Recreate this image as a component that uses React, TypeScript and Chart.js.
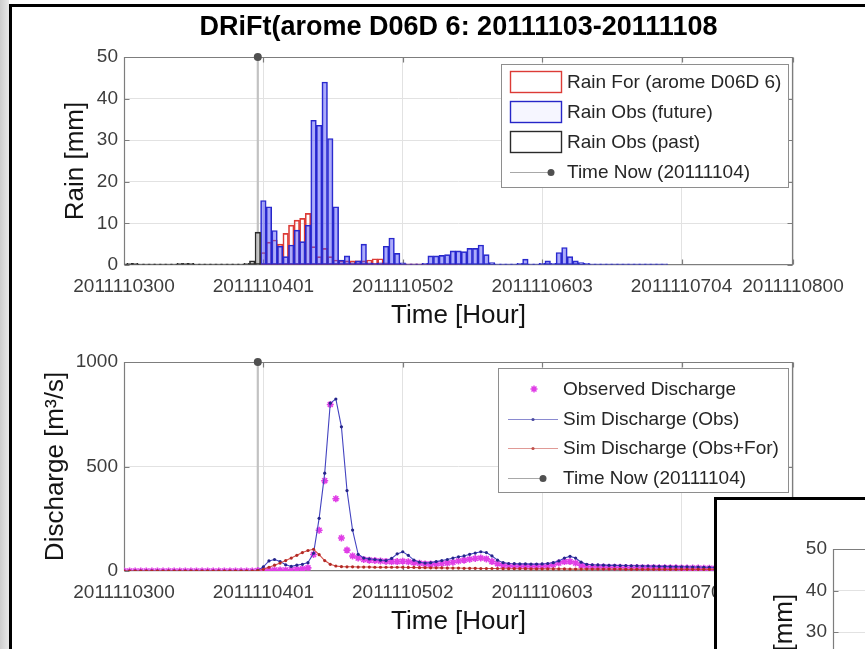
import React, { useEffect, useRef } from 'react';
import { Chart, registerables } from 'chart.js';

Chart.register(...registerables);

const FONT = '"Liberation Sans", Arial, Helvetica, sans-serif';
Chart.defaults.font.family = FONT;

const W = 865;
const H = 649;

// ---- text ----
const FIGURE_TITLE = 'DRiFt(arome D06D 6: 20111103-20111108';
const X_TITLE = 'Time [Hour]';
const RAIN_Y_TITLE = 'Rain [mm]';
const FLOW_Y_TITLE = 'Discharge [m³/s]';
const NOW_LABEL = 'Time Now (20111104)';

// ---- time axis: hours counted from 2011-11-03 00h ----
const TICK_HOURS = [0, 25, 50, 75, 100, 120];
const TICK_LABELS = ['2011110300', '2011110401', '2011110502', '2011110603', '2011110704', '2011110800'];
const NOW_HOUR = 24;

// ---- hourly rain (mm) ----
const RAIN_PAST_START = 0;
const RAIN_PAST = [
  0.3, 0.4, 0.4, 0.3, 0.3, 0.3, 0.3, 0.3, 0.3, 0.3,
  0.4, 0.4, 0.4, 0.3, 0.3, 0.3, 0.3, 0.3, 0.3, 0.3,
  0.3, 0.3, 0.4, 1.0, 7.9,
];
const RAIN_FUTURE_START = 25;
const RAIN_FUTURE = [
  15.5, 14.0, 8.3, 4.5, 2.0, 4.8, 8.4, 5.6, 9.6, 34.8,
  33.6, 44.0, 30.4, 14.0, 1.2, 2.2, 0.5, 1.0, 5.0, 0.5,
  0.4, 0.5, 4.5, 6.5, 2.8, 0.5, 0.3, 0.3, 0.3, 0.4,
  2.2, 2.2, 2.3, 2.5, 3.4, 3.4, 3.2, 4.0, 4.0, 4.8,
  2.5, 0.6, 0.3, 0.3, 0.3, 0.3, 0.4, 1.4, 0.3, 0.3,
  0.4, 1.0, 0.4, 3.0, 4.2, 2.0, 1.0, 0.6, 0.4, 0.3,
  0.3, 0.3, 0.3, 0.3, 0.3, 0.3, 0.3, 0.3, 0.3, 0.3,
  0.3, 0.3, 0.3,
];
const RAIN_FORECAST_START = 25;
const RAIN_FORECAST = [
  3.0, 5.5, 6.0, 5.0, 7.6, 9.6, 10.8, 11.2, 12.4, 4.4,
  2.0, 4.0, 2.0, 1.2, 1.0, 1.0, 1.0, 1.0, 1.0, 1.2,
  1.5, 1.5, 0.5, 0.4, 0.3, 0.3, 0.3, 0.3, 0.3, 0.3,
  0.3, 0.3, 0.3, 0.3, 0.3, 0.3,
];

// ---- hourly discharge (m3/s), hour 0 .. 120 ----
const Q_OBSERVED = [
  0, 0, 0, 0, 0, 0, 0, 0, 0, 0,
  0, 0, 0, 0, 0, 0, 0, 0, 0, 0,
  0, 0, 0, 0, 2, 3, 4, 5, 5, 5,
  6, 8, 10, 15, 79, 195, 432, 797, 346, 158,
  100, 72, 62, 55, 52, 50, 48, 46, 45, 45,
  47, 44, 40, 37, 34, 33, 34, 36, 38, 42,
  48, 52, 56, 60, 62, 58, 45, 35, 28, 25,
  23, 22, 22, 22, 22, 23, 25, 30, 38, 45,
  45, 38, 28, 22, 20, 19, 19, 18, 18, 18,
  17, 17, 17, 16, 16, 16, 15, 15, 15, 15,
  14, 14, 14, 14, 13, 13, 13, 13, 13, 12,
  12, 12, 12, 12, 12, 11, 11, 11, 11, 11,
  11,
];
const Q_SIM_OBS = [
  0, 0, 0, 0, 0, 0, 0, 0, 0, 0,
  0, 0, 0, 0, 0, 0, 0, 0, 0, 0,
  0, 0, 0, 0, 3, 20, 48, 55, 45, 30,
  22, 28, 32, 40, 85, 252, 468, 803, 823, 690,
  385, 196, 80, 62, 58, 55, 52, 50, 60, 82,
  92, 75, 52, 42, 38, 40, 45, 50, 55, 62,
  68, 72, 80, 86, 92, 88, 72, 52, 40, 36,
  35, 34, 34, 33, 33, 34, 36, 40, 48, 62,
  70, 62, 42, 32, 30, 29, 28, 27, 27, 26,
  26, 25, 25, 24, 24, 23, 22, 22, 21, 21,
  20, 20, 19, 19, 18, 18, 17, 17, 17, 16,
  16, 16, 15, 15, 15, 14, 14, 14, 14, 13,
  13,
];
const Q_SIM_OBS_FOR = [
  0, 0, 0, 0, 0, 0, 0, 0, 0, 0,
  0, 0, 0, 0, 0, 0, 0, 0, 0, 0,
  0, 0, 0, 0, 2, 8, 18, 28, 38, 50,
  62, 75, 88, 98, 104, 78, 50, 32, 24, 21,
  20, 20, 19, 19, 19, 18, 18, 18, 18, 18,
  18, 17, 17, 16, 16, 15, 15, 15, 14, 14,
  14, 13, 13, 13, 12, 12, 12, 12, 11, 11,
  11, 11, 11, 10, 10, 10, 10, 10, 10, 10,
  9, 9, 9, 9, 9, 9, 9, 9, 9, 9,
  8, 8, 8, 8, 8, 8, 8, 8, 8, 8,
  8, 8, 8, 8, 8, 8, 8, 8, 8, 8,
  8, 8, 8, 8, 8, 8, 8, 8, 8, 8,
  8,
];

// ---- styling ----
const GRID_COLOR = '#e2e2e2';
const AXIS_COLOR = '#7d7d7d';
const TICK_COLOR = '#3d3d3d';
const LABEL_COLOR = '#141414';
const TEXT_COLOR = '#262626';
const RED = '#dc3b36';
const BLUE = '#2626c8';
const PAST = '#2a2a2a';
const NOW_LINE = '#c2c2c2';
const NOW_DOT = '#505050';
const MAGENTA = '#e03ee6';
const SIM_BLUE = '#4343c0';
const SIM_RED = '#d4504a';

const series = (start: number, values: number[]) => values.map((y, i) => ({ x: start + i, y }));

// Title centred over the plot area
const axesTitle = {
  id: 'axesTitle',
  afterDraw(chart: any, _a: any, opts: any) {
    if (!opts || !opts.text) return;
    const { ctx, chartArea } = chart;
    ctx.save();
    ctx.font = `bold ${opts.size}px ${FONT}`;
    ctx.fillStyle = opts.color;
    ctx.textAlign = 'center';
    ctx.textBaseline = 'middle';
    ctx.fillText(opts.text, (chartArea.left + chartArea.right) / 2, chartArea.top - opts.gap);
    ctx.restore();
  },
};

// Box around the plot area with inward tick marks
const axesBox = {
  id: 'axesBox',
  beforeDatasetsDraw(chart: any, _a: any, opts: any) {
    const { ctx, chartArea: a, scales } = chart;
    const l = Math.round(a.left) + 0.5;
    const t = Math.round(a.top) + 0.5;
    const r = Math.round(a.right) - 0.5;
    const b = Math.round(a.bottom) - 0.5;
    const len = opts.tick || 5;
    ctx.save();
    ctx.strokeStyle = opts.color || AXIS_COLOR;
    ctx.lineWidth = 1.2;
    ctx.beginPath();
    ctx.rect(l, t, r - l, b - t);
    scales.y.ticks.forEach((tk: any) => {
      const py = Math.round(scales.y.getPixelForValue(tk.value)) + 0.5;
      ctx.moveTo(l, py); ctx.lineTo(l + len, py);
      ctx.moveTo(r, py); ctx.lineTo(r - len, py);
    });
    scales.x.ticks.forEach((tk: any) => {
      const px = Math.round(scales.x.getPixelForValue(tk.value)) + 0.5;
      ctx.moveTo(px, b); ctx.lineTo(px, b - len);
      ctx.moveTo(px, t); ctx.lineTo(px, t + len);
    });
    ctx.stroke();
    ctx.restore();
  },
};

// Legend box drawn inside the plot area, top right
const boxLegend = {
  id: 'boxLegend',
  afterDatasetsDraw(chart: any, _a: any, opts: any) {
    if (!opts || !opts.items) return;
    const { ctx, chartArea } = chart;
    const x0 = Math.round(chartArea.right - opts.right - opts.width);
    const y0 = Math.round(chartArea.top + opts.top);
    ctx.save();
    ctx.fillStyle = '#ffffff';
    ctx.fillRect(x0, y0, opts.width, opts.height);
    ctx.strokeStyle = '#8e8e8e';
    ctx.lineWidth = 1;
    ctx.strokeRect(x0 + 0.5, y0 + 0.5, opts.width, opts.height);
    ctx.font = `${opts.fontSize}px ${FONT}`;
    ctx.textBaseline = 'middle';
    ctx.textAlign = 'left';
    opts.items.forEach((it: any, i: number) => {
      const cy = Math.round(y0 + opts.firstRow + i * opts.rowGap);
      const sx = x0 + opts.symbolLeft;
      if (it.kind === 'box') {
        ctx.fillStyle = it.fill;
        ctx.fillRect(sx, cy - 11, opts.symbolWidth, 22);
        ctx.strokeStyle = it.stroke;
        ctx.lineWidth = 1.4;
        ctx.strokeRect(sx + 0.5, cy - 10.5, opts.symbolWidth - 1, 21);
      } else {
        if (it.lineTo > it.lineFrom) {
          ctx.strokeStyle = it.stroke;
          ctx.lineWidth = 1;
          ctx.beginPath();
          ctx.moveTo(sx + it.lineFrom, cy + 0.5);
          ctx.lineTo(sx + it.lineTo, cy + 0.5);
          ctx.stroke();
        }
        const mx = sx + it.markerAt;
        if (it.marker === 'star') {
          ctx.strokeStyle = it.markerColor;
          ctx.lineWidth = 1.5;
          const r = it.markerSize;
          ctx.beginPath();
          for (let k = 0; k < 4; k++) {
            const ang = (k * Math.PI) / 4;
            ctx.moveTo(mx - r * Math.cos(ang), cy - r * Math.sin(ang));
            ctx.lineTo(mx + r * Math.cos(ang), cy + r * Math.sin(ang));
          }
          ctx.stroke();
        } else {
          ctx.fillStyle = it.markerColor;
          ctx.beginPath();
          ctx.arc(mx, cy + 0.5, it.markerSize, 0, Math.PI * 2);
          ctx.fill();
        }
      }
      ctx.fillStyle = TEXT_COLOR;
      ctx.fillText(it.label, x0 + opts.textLeft, cy + 1);
    });
    ctx.restore();
  },
};

function timeAxis() {
  return {
    type: 'linear',
    min: 0,
    max: 120,
    offset: false,
    afterBuildTicks: (s: any) => {
      s.ticks = TICK_HOURS.map((value) => ({ value }));
    },
    afterFit: (s: any) => {
      s.height = 66;
    },
    ticks: {
      autoSkip: false,
      maxRotation: 0,
      minRotation: 0,
      padding: 10,
      color: TICK_COLOR,
      font: { size: 19 },
      callback: (v: number) => TICK_LABELS[TICK_HOURS.indexOf(v)] ?? '',
    },
    grid: { color: GRID_COLOR, offset: false, drawTicks: false, lineWidth: 1 },
    border: { display: false },
    title: { display: true, text: X_TITLE, color: LABEL_COLOR, font: { size: 26 }, padding: { top: 0, bottom: 0 } },
  };
}

function valueAxis(max: number, step: number, title: string, titlePad: number) {
  return {
    type: 'linear',
    min: 0,
    max,
    afterFit: (s: any) => {
      s.width = 124;
    },
    ticks: {
      stepSize: step,
      padding: 6,
      color: TICK_COLOR,
      font: { size: 19 },
      callback: (v: number) => String(v),
    },
    grid: { color: GRID_COLOR, drawTicks: false, lineWidth: 1 },
    border: { display: false },
    title: { display: true, text: title, color: LABEL_COLOR, font: { size: 26 }, padding: { top: titlePad, bottom: 0 } },
  };
}

function nowDataset(top: number) {
  return {
    type: 'line',
    label: NOW_LABEL,
    data: [
      { x: NOW_HOUR, y: 0 },
      { x: NOW_HOUR, y: top },
    ],
    borderColor: NOW_LINE,
    borderWidth: 2.2,
    pointRadius: [0, 4],
    pointBackgroundColor: NOW_DOT,
    pointBorderColor: NOW_DOT,
    pointBorderWidth: 0,
    clip: false,
    order: 9,
  };
}

const commonOptions = {
  responsive: false,
  maintainAspectRatio: false,
  animation: false,
  devicePixelRatio: 1,
  events: [],
};

function rainConfig() {
  const barBase = {
    type: 'bar',
    grouped: false,
    barPercentage: 1,
    categoryPercentage: 1,
    borderSkipped: false,
    borderWidth: 1,
  };
  return {
    type: 'bar',
    data: {
      datasets: [
        {
          ...barBase,
          label: 'Rain For (arome D06D 6)',
          data: series(RAIN_FORECAST_START, RAIN_FORECAST),
          borderColor: RED,
          backgroundColor: 'rgba(255,255,255,0)',
          order: 4,
        },
        {
          ...barBase,
          label: 'Rain Obs (future)',
          data: series(RAIN_FUTURE_START, RAIN_FUTURE),
          borderColor: BLUE,
          backgroundColor: 'rgba(70,70,245,0.45)',
          order: 2,
        },
        {
          ...barBase,
          label: 'Rain Obs (past)',
          data: series(RAIN_PAST_START, RAIN_PAST),
          borderColor: PAST,
          backgroundColor: 'rgba(255,255,255,0)',
          order: 1,
        },
        nowDataset(50),
      ],
    },
    options: {
      ...commonOptions,
      layout: { padding: { left: 0, right: 72, top: 57, bottom: 318 } },
      scales: {
        x: timeAxis(),
        y: valueAxis(50, 10, RAIN_Y_TITLE, 60),
      },
      plugins: {
        legend: { display: false },
        tooltip: { enabled: false },
        axesTitle: { text: FIGURE_TITLE, size: 27, color: '#000', gap: 29 },
        axesBox: { color: AXIS_COLOR, tick: 5 },
        boxLegend: {
          right: 5,
          top: 7,
          width: 287,
          height: 123,
          fontSize: 19,
          firstRow: 17.5,
          rowGap: 30,
          symbolLeft: 9,
          symbolWidth: 52,
          textLeft: 66,
          items: [
            { label: 'Rain For (arome D06D 6)', kind: 'box', stroke: RED, fill: '#ffffff' },
            { label: 'Rain Obs (future)', kind: 'box', stroke: BLUE, fill: '#f6f6ff' },
            { label: 'Rain Obs (past)', kind: 'box', stroke: PAST, fill: '#ffffff' },
            { label: NOW_LABEL, kind: 'line', stroke: '#a8a8a8', lineFrom: 0, lineTo: 43, markerAt: 41, marker: 'dot', markerColor: NOW_DOT, markerSize: 3.5 },
          ],
        },
      },
    },
    plugins: [axesTitle, axesBox, boxLegend],
  };
}

function flowConfig() {
  return {
    type: 'line',
    data: {
      datasets: [
        {
          label: 'Observed Discharge',
          data: series(0, Q_OBSERVED),
          showLine: false,
          pointStyle: 'star',
          pointRadius: 3.5,
          pointBorderWidth: 1.6,
          pointBorderColor: MAGENTA,
          pointBackgroundColor: MAGENTA,
          borderColor: MAGENTA,
          order: 4,
        },
        {
          label: 'Sim Discharge (Obs)',
          data: series(0, Q_SIM_OBS),
          borderColor: SIM_BLUE,
          borderWidth: 1.1,
          pointRadius: 1.6,
          pointBorderWidth: 0,
          pointBackgroundColor: '#25258a',
          tension: 0,
          order: 3,
        },
        {
          label: 'Sim Discharge (Obs+For)',
          data: series(0, Q_SIM_OBS_FOR),
          borderColor: SIM_RED,
          borderWidth: 1.1,
          pointRadius: 1.6,
          pointBorderWidth: 0,
          pointBackgroundColor: '#b32a25',
          tension: 0,
          order: 2,
        },
        nowDataset(1000),
      ],
    },
    options: {
      ...commonOptions,
      layout: { padding: { left: 0, right: 72, top: 362, bottom: 12 } },
      scales: {
        x: timeAxis(),
        y: valueAxis(1000, 500, FLOW_Y_TITLE, 40),
      },
      plugins: {
        legend: { display: false },
        tooltip: { enabled: false },
        axesBox: { color: AXIS_COLOR, tick: 5 },
        boxLegend: {
          right: 5,
          top: 6,
          width: 290,
          height: 124,
          fontSize: 19,
          firstRow: 21,
          rowGap: 29.5,
          symbolLeft: 10,
          symbolWidth: 50,
          textLeft: 65,
          items: [
            { label: 'Observed Discharge', kind: 'line', stroke: MAGENTA, lineFrom: 0, lineTo: 0, markerAt: 26, marker: 'star', markerColor: MAGENTA, markerSize: 3.5 },
            { label: 'Sim Discharge (Obs)', kind: 'line', stroke: '#8a8ad0', lineFrom: 0, lineTo: 50, markerAt: 25, marker: 'dot', markerColor: '#4a4aa0', markerSize: 1.6 },
            { label: 'Sim Discharge (Obs+For)', kind: 'line', stroke: '#e09a96', lineFrom: 0, lineTo: 50, markerAt: 25, marker: 'dot', markerColor: '#c0504a', markerSize: 1.6 },
            { label: NOW_LABEL, kind: 'line', stroke: '#a8a8a8', lineFrom: 0, lineTo: 35, markerAt: 35, marker: 'dot', markerColor: NOW_DOT, markerSize: 3.5 },
          ],
        },
      },
    },
    plugins: [axesBox, boxLegend],
  };
}

function ChartCanvas({ build, left, top }: { build: () => any; left: number; top: number }) {
  const ref = useRef<HTMLCanvasElement>(null);
  useEffect(() => {
    if (!ref.current) return;
    const chart = new Chart(ref.current, build());
    return () => chart.destroy();
  }, [build]);
  return (
    <canvas
      ref={ref}
      width={W}
      height={H}
      style={{ position: 'absolute', left, top, width: W, height: H }}
    />
  );
}

export default function App() {
  return (
    <div style={{ position: 'fixed', left: 0, top: 0, width: W, height: H, overflow: 'hidden', background: '#ffffff' }}>
      <div
        style={{
          position: 'absolute',
          left: 0,
          top: 0,
          width: 9,
          height: H,
          background: 'linear-gradient(to right, #cdcdcd, #e9e9e9)',
        }}
      />
      <div
        style={{
          position: 'absolute',
          left: 9,
          top: 4,
          width: W - 9,
          height: H - 4,
          boxSizing: 'border-box',
          borderLeft: '3px solid #000',
          borderTop: '3px solid #000',
          background: '#ffffff',
        }}
      />
      <ChartCanvas build={rainConfig} left={0} top={0} />
      <ChartCanvas build={flowConfig} left={0} top={0} />
      <div
        style={{
          position: 'absolute',
          left: 714,
          top: 497,
          width: W - 714,
          height: H - 497,
          boxSizing: 'border-box',
          borderLeft: '3px solid #000',
          borderTop: '3px solid #000',
          background: '#ffffff',
          overflow: 'hidden',
        }}
      >
        <ChartCanvas build={rainConfig} left={-8} top={-8} />
      </div>
    </div>
  );
}
